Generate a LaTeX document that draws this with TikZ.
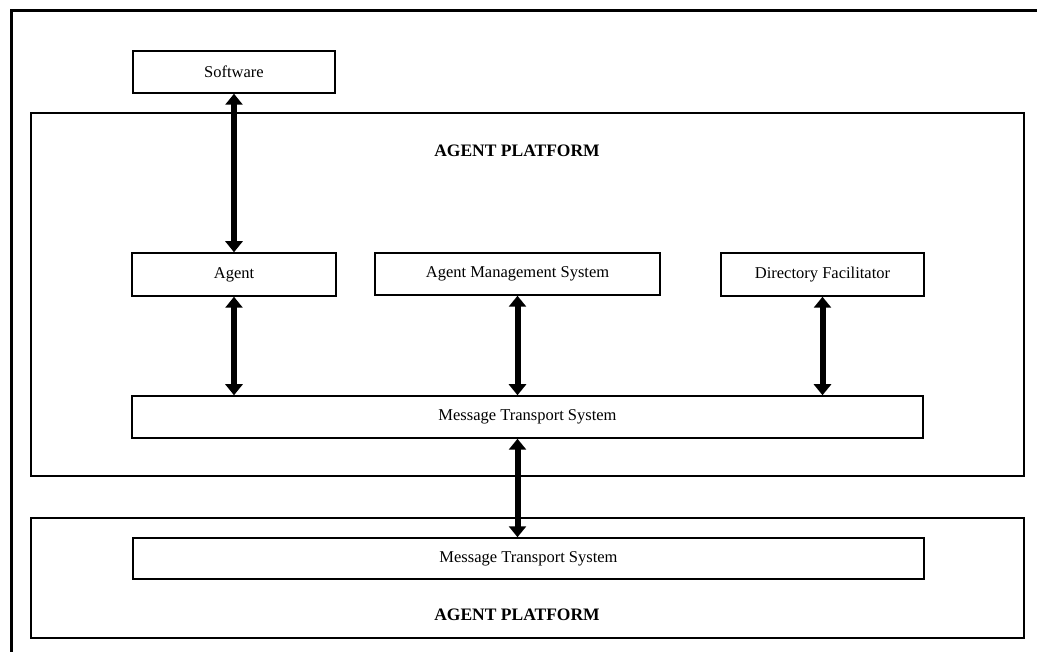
\documentclass[tikz,border=0pt]{standalone}
\usepackage{fontspec}
\setmainfont{Liberation Serif}
\usetikzlibrary{arrows.meta}
\begin{document}
\begin{tikzpicture}[x=1pt,y=-1pt,
  box/.style={draw,line width=1.5pt,rectangle,inner sep=0pt,font=\fontsize{16.5}{19}\selectfont},
  platform/.style={draw,line width=1.5pt,rectangle,inner sep=0pt},
  title/.style={font=\bfseries\fontsize{17.5}{20}\selectfont,inner sep=0pt},
  link/.style={line width=6pt,{Triangle[width=17pt,length=11pt]}-{Triangle[width=17pt,length=11pt]}}]
  \useasboundingbox (0,0) rectangle (1037,652);
  \fill[white] (0,0) rectangle (1037,652);
  % page frame (left and top edges)
  \draw[line width=3pt] (11,652) -- (11,11) -- (1037,11);

  % platform containers
  \node[platform,minimum width=993pt,minimum height=363pt] (upper) at (527.5,294.5) {};
  \node[platform,minimum width=993pt,minimum height=120pt] (lower) at (527.5,578) {};
  \node[title] (uppertitle) at (517,151) {AGENT PLATFORM};
  \node[title] (lowertitle) at (517,615) {AGENT PLATFORM};

  % components
  \node[box,minimum width=202pt,minimum height=42pt] (sw) at (234,72) {Software};
  \node[box,minimum width=204pt,minimum height=43pt] (agent) at (234,274.5) {Agent};
  \node[box,minimum width=285pt,minimum height=42pt] (ams) at (517.5,274) {Agent Management System};
  \node[box,minimum width=203pt,minimum height=43pt] (df) at (822.5,274.5) {Directory Facilitator};
  \node[box,minimum width=791pt,minimum height=42pt] (mts) at (527.5,417) {Message Transport System};
  \node[box,minimum width=791pt,minimum height=41pt] (mts2) at (528.5,558.5) {Message Transport System};

  % message links
  \draw[link] (sw.south) -- (agent.north);
  \draw[link] (agent.south) -- (agent.south |- mts.north);
  \draw[link] (ams.south) -- (ams.south |- mts.north);
  \draw[link] (df.south) -- (df.south |- mts.north);
  \draw[link] (ams.south |- mts.south) -- (ams.south |- mts2.north);
\end{tikzpicture}
\end{document}
